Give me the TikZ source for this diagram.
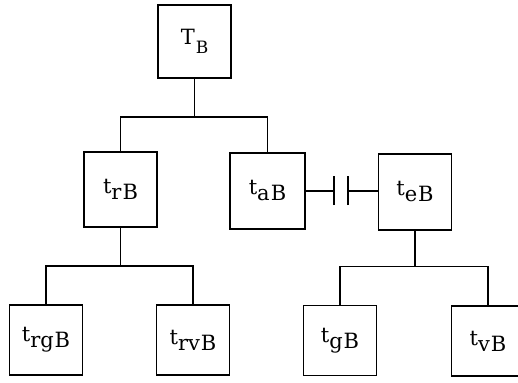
\documentclass[tikz,border=0pt]{standalone}
\usepackage{fontspec}
\setmainfont{DejaVu Serif}
\newcommand{\lbl}[1]{\raisebox{6pt}{t}#1\kern1pt B}
\begin{document}
\begin{tikzpicture}[x=1pt,y=-1pt,
  blk/.style={draw,line width=1.1pt,minimum width=73pt,minimum height=73pt,inner sep=0pt,font=\fontsize{21}{23}\selectfont},
  wire/.style={line width=1.1pt}]
\useasboundingbox (0,0) rectangle (518,382);
\node[blk] (T) at (194.5,41.5) {T\kern1pt\raisebox{-9pt}{\fontsize{17}{18}\selectfont B}};
\node[blk,minimum height=75pt] (tr) at (120.5,189.5) {\lbl{r}};
\node[blk,minimum width=75pt,minimum height=76pt] (ta) at (267.5,191) {\lbl{a}};
\node[blk,minimum height=76pt] (te) at (415,192) {\lbl{e}};
\node[blk,minimum height=70pt] (trg) at (46,340) {\lbl{rg}};
\node[blk,minimum height=70pt] (trv) at (193,340) {\lbl{rv}};
\node[blk,minimum height=70pt] (tg) at (340,340.5) {\lbl{g}};
\node[blk,minimum height=70pt] (tv) at (488,341) {\lbl{v}};
\coordinate (j1) at (194.5,117);
\coordinate (j2) at (120.5,266);
\coordinate (j3) at (415,266.5);
\coordinate (c1) at (334,191);
\coordinate (c2) at (348,191);
% top tree
\draw[wire] (T.south) -- (j1);
\draw[wire] (tr.north) |- (j1) -| (ta.north);
% left sub tree
\draw[wire] (tr.south) -- (j2);
\draw[wire] (trg.north) |- (j2) -| (trv.north);
% right sub tree
\draw[wire] (te.south) -- (j3);
\draw[wire] (tg.north) |- (j3) -| (tv.north);
% capacitor link
\draw[wire] (ta.east) -- (c1);
\draw[wire] ([yshift=-14pt]c1) -- ([yshift=15pt]c1);
\draw[wire] ([yshift=-14pt]c2) -- ([yshift=15pt]c2);
\draw[wire] (c2) -- (c2 -| te.west);
\end{tikzpicture}
\end{document}
